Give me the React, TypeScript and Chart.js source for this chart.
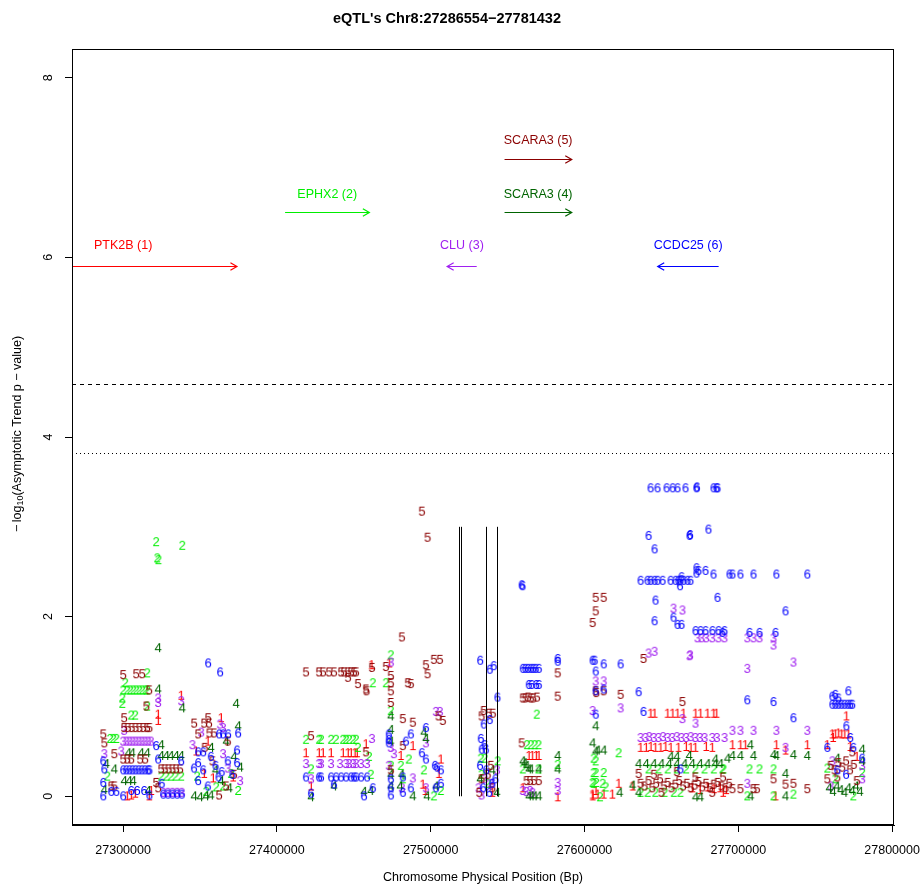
import React, { useEffect, useRef } from "react";
import { Chart, registerables } from "chart.js";

Chart.register(...registerables);

const FONT_FAMILY = "'Liberation Sans', Arial, Helvetica, sans-serif";
const TITLE = "eQTL's Chr8:27286554−27781432";
const X_TITLE = "Chromosome Physical Position (Bp)";
const Y_TITLE_PARTS = ["−\u2009log", "10", "(Asymptotic Trend p − value)"];

const X_MIN = 27266759;
const X_MAX = 27801227;
const Y_MIN = -0.32;
const Y_MAX = 8.32;
const X_TICKS = [27300000, 27400000, 27500000, 27600000, 27700000, 27800000];
const Y_TICKS = [0, 2, 4, 6, 8];

const GENE_SYMBOLS = ["1", "2", "3", "4", "5", "6"];
const GENE_COLORS = ["#FF0000", "#00EE00", "#A020F0", "#006400", "#8B0000", "#0000FF"];

// gene annotation arrows
const GENE_NAMES = ["PTK2B (1)", "EPHX2 (2)", "CLU (3)", "SCARA3 (4)", "SCARA3 (5)", "CCDC25 (6)"];
const GENE_COLOR_INDEX = [0, 1, 2, 3, 4, 5];
const GENE_TAIL = [27226000, 27405300, 27529900, 27548000, 27548000, 27687200];
const GENE_HEAD = [27374000, 27460100, 27510700, 27591700, 27591700, 27647600];
const GENE_ARROW_Y = [5.9, 6.5, 5.9, 6.5, 7.1, 5.9];
const GENE_LABEL_Y = [6.13, 6.7, 6.13, 6.7, 7.3, 6.13];

// threshold lines
const THRESHOLD_VALUES = [4.59, 3.82];
const THRESHOLD_DASHES = [[4, 4], [1, 3]];

// vertical marker segments
const VLINE_POSITIONS = [27518200, 27520000, 27535700, 27543300];
const VLINE_FROM = 0;
const VLINE_TO = 3;

// eQTL points: [position (bp), -log10 p]
const GENE1_POINTS: [number, number][] = [
  [27302600, 0.01], [27305200, 0.02], [27307800, 0.04], [27316900, 0.01], [27318200, 0.07], [27322700, 0.92], [27322700, 0.85], [27337700, 1.13], [27363600, 0.88], [27347400, 0.51], [27352600, 0.26], [27358400, 0.21], [27371400, 0.22], [27355000, 0.62],
  [27418800, 0.49], [27427300, 0.49], [27429900, 0.49], [27435100, 0.49], [27442900, 0.49], [27446100, 0.49], [27448100, 0.49], [27450600, 0.49], [27452000, 0.49], [27461500, 1.47], [27473000, 1.49], [27457800, 0.59], [27422100, 0.12], [27488300, 0.57], [27480500, 0.46], [27494800, 0.14], [27506500, 0.42], [27505200, 0.26], [27496500, 0.07],
  [27563700, 0.46], [27566000, 0.46], [27568500, 0.46], [27570200, 0.46], [27559800, 0.10], [27582500, 0.0], [27607200, 0.07], [27605200, 0.01], [27540000, 0.05],
  [27642900, 0.93], [27645500, 0.93], [27653900, 0.93], [27657200, 0.93], [27660400, 0.93], [27664300, 0.93], [27672100, 0.93], [27675300, 0.93], [27679900, 0.93], [27683800, 0.93], [27685700, 0.93],
  [27636400, 0.55], [27640000, 0.55], [27643000, 0.56], [27646000, 0.55], [27649400, 0.55], [27652600, 0.56], [27656000, 0.55], [27661000, 0.55], [27666000, 0.56], [27669000, 0.55], [27672000, 0.55], [27679000, 0.56], [27683000, 0.55],
  [27605200, 0.03], [27608500, 0.03], [27612400, 0.03], [27618000, 0.03], [27622100, 0.15], [27631200, 0.12],
  [27670000, 0.10], [27675000, 0.08], [27680000, 0.11], [27684000, 0.09], [27688000, 0.10], [27692000, 0.08],
  [27696100, 0.58], [27701300, 0.58], [27704500, 0.58], [27724700, 0.58], [27744800, 0.58], [27730600, 0.52], [27770200, 0.90],
  [27761100, 0.70], [27763000, 0.70], [27765000, 0.71], [27767000, 0.70], [27769000, 0.70], [27771500, 0.70],
  [27761500, 0.66], [27757800, 0.58], [27772700, 0.56], [27777000, 0.45], [27724100, 0.01], [27690000, 0.05],
];

const GENE2_POINTS: [number, number][] = [
  [27321400, 2.84], [27322100, 2.66], [27322900, 2.64], [27338400, 2.80], [27315600, 1.38], [27301300, 1.27],
  [27300000, 1.19], [27302600, 1.19], [27304500, 1.19], [27306500, 1.19], [27308400, 1.19], [27310400, 1.19], [27312300, 1.19], [27314300, 1.19], [27315600, 1.19],
  [27299400, 1.10], [27299400, 1.04], [27315600, 1.01], [27305200, 0.91], [27307800, 0.91],
  [27291500, 0.65], [27293500, 0.65], [27295500, 0.65],
  [27324700, 0.23], [27328000, 0.23], [27331000, 0.23], [27334000, 0.23], [27337700, 0.23],
  [27289600, 0.23], [27360400, 0.11], [27364900, 0.12], [27374700, 0.07], [27353900, 0.06], [27370100, 0.26], [27348000, 0.23],
  [27418800, 0.64], [27427300, 0.64], [27428600, 0.64], [27435100, 0.64], [27438300, 0.64], [27442900, 0.64], [27444800, 0.64], [27446800, 0.64], [27449400, 0.64], [27451300, 0.64],
  [27474000, 1.58], [27462300, 1.27], [27470800, 1.27], [27452600, 0.55], [27459800, 0.45], [27422100, 0.31], [27474000, 0.96], [27474000, 0.35], [27485700, 0.42], [27481800, 0.20], [27495500, 0.30], [27506500, 0.07], [27461000, 0.25], [27480500, 0.35], [27502000, 0.01],
  [27568900, 0.92], [27562500, 0.58], [27565000, 0.58], [27567500, 0.58], [27570000, 0.58], [27532500, 0.43], [27535000, 0.43], [27543500, 0.40], [27559800, 0.31], [27570000, 0.31], [27582500, 0.36], [27607200, 0.40], [27607200, 0.27], [27605200, 0.16], [27607500, 0.16], [27537000, 0.15], [27533000, 0.25],
  [27605900, 0.43], [27622100, 0.49], [27605900, 0.27], [27612400, 0.27], [27605900, 0.15], [27611700, 0.15],
  [27641600, 0.31], [27648000, 0.31], [27654000, 0.31], [27660000, 0.31], [27666000, 0.31], [27672000, 0.31], [27678000, 0.31], [27684000, 0.31], [27690300, 0.31],
  [27636400, 0.05], [27641000, 0.05], [27646000, 0.05], [27652000, 0.05], [27658000, 0.05], [27662300, 0.05], [27610000, 0.0], [27613700, 0.11],
  [27689600, 0.31], [27707200, 0.31], [27713700, 0.31], [27722800, 0.31], [27705800, 0.01], [27735800, 0.03], [27757800, 0.32], [27780500, 0.27], [27763000, 0.20], [27774700, 0.01], [27722800, 0.01],
];

const GENE3_POINTS: [number, number][] = [
  [27322700, 1.10], [27322700, 1.05], [27337700, 1.07],
  [27300000, 0.62], [27302000, 0.62], [27304000, 0.62], [27306000, 0.62], [27308000, 0.62], [27310000, 0.62], [27312000, 0.62], [27314000, 0.62], [27316000, 0.62], [27318000, 0.62],
  [27298700, 0.51], [27300600, 0.74], [27287700, 0.48],
  [27326000, 0.05], [27329000, 0.05], [27332000, 0.05], [27335000, 0.05], [27338000, 0.05],
  [27362900, 0.81], [27364900, 0.77], [27350700, 0.72], [27368000, 0.32], [27376000, 0.18], [27364900, 0.48], [27345000, 0.58],
  [27418800, 0.37], [27427300, 0.37], [27428600, 0.37], [27435100, 0.37], [27440900, 0.37], [27444800, 0.37], [27446800, 0.37], [27449400, 0.37], [27451300, 0.37], [27454600, 0.37], [27458500, 0.37],
  [27461700, 0.65], [27474000, 1.50], [27474000, 0.55], [27476000, 0.48], [27503300, 0.95], [27505900, 0.95], [27422100, 0.20], [27488300, 0.21], [27481200, 0.10], [27496800, 0.60], [27496800, 0.10], [27472700, 0.35],
  [27607200, 1.29], [27605200, 0.96], [27559800, 0.07], [27562000, 0.06], [27564500, 0.07], [27566000, 0.05], [27582500, 0.16], [27582500, 0.07], [27531000, 0.10], [27535000, 0.20], [27539000, 0.15], [27543000, 0.30], [27533000, 0.02],
  [27657800, 2.10], [27663600, 2.08], [27673400, 1.77], [27676000, 1.77], [27679000, 1.77], [27683000, 1.77], [27687000, 1.77], [27690900, 1.77],
  [27668200, 1.57], [27668600, 1.58], [27641600, 1.60], [27645500, 1.62], [27612400, 1.29], [27623400, 0.99], [27663600, 0.87], [27672100, 0.82],
  [27636400, 0.66], [27639600, 0.66], [27642000, 0.67], [27645000, 0.66], [27648000, 0.66], [27651000, 0.67], [27654000, 0.66], [27657000, 0.66], [27660000, 0.67], [27663000, 0.66], [27666000, 0.66], [27669000, 0.67], [27672000, 0.66], [27675000, 0.66], [27678000, 0.66], [27683000, 0.66], [27686000, 0.66], [27691000, 0.66],
  [27705800, 1.77], [27709800, 1.77], [27713700, 1.77], [27722800, 1.77], [27722800, 1.69], [27705800, 1.43], [27735800, 1.50],
  [27696100, 0.74], [27701300, 0.74], [27709800, 0.74], [27724700, 0.74], [27744800, 0.74], [27730600, 0.55], [27761100, 0.40], [27780500, 0.35], [27780500, 0.20], [27760000, 0.12], [27705800, 0.15],
];

const GENE4_POINTS: [number, number][] = [
  [27322700, 1.66], [27322700, 1.20], [27338400, 0.99], [27373400, 1.04],
  [27324700, 0.46], [27328000, 0.46], [27331000, 0.46], [27334400, 0.46], [27337700, 0.46],
  [27303300, 0.49], [27305900, 0.49], [27311700, 0.49], [27315600, 0.49], [27324700, 0.58],
  [27289000, 0.37], [27294200, 0.31], [27287700, 0.08], [27300600, 0.18], [27303900, 0.18], [27306500, 0.18], [27316200, 0.07],
  [27346100, 0.01], [27350000, 0.0], [27353900, 0.01], [27357000, 0.02], [27363600, 0.18], [27374700, 0.79], [27357100, 0.55],
  [27366900, 0.62], [27372000, 0.45], [27369000, 0.10], [27360000, 0.30], [27376000, 0.33],
  [27437000, 0.12], [27422100, 0.0], [27456500, 0.06], [27461000, 0.07], [27474000, 0.90], [27474000, 0.75], [27474000, 0.62], [27474000, 0.25], [27474000, 0.12], [27495500, 0.72], [27496800, 0.65], [27488300, 0.01], [27497500, 0.01], [27503300, 0.12], [27480000, 0.12], [27481000, 0.25],
  [27605200, 0.60], [27607200, 0.51], [27607200, 0.79], [27559800, 0.40], [27561000, 0.38], [27562300, 0.35], [27563700, 0.31], [27565000, 0.31], [27570200, 0.31], [27582500, 0.46], [27582500, 0.31], [27563700, 0.01], [27565500, 0.01], [27567500, 0.01], [27570200, 0.01], [27532000, 0.20], [27540000, 0.30], [27543000, 0.05],
  [27608500, 0.52], [27612400, 0.52], [27622800, 0.05], [27631200, 0.13], [27635100, 0.05],
  [27635100, 0.37], [27640000, 0.37], [27645000, 0.37], [27650000, 0.37], [27655000, 0.37], [27660000, 0.37], [27665000, 0.37], [27670000, 0.37], [27675000, 0.37], [27680000, 0.37], [27685000, 0.37], [27688300, 0.37],
  [27672100, 0.0], [27675300, 0.0], [27656000, 0.45], [27660000, 0.45], [27668000, 0.46], [27685000, 0.42], [27692900, 0.43],
  [27707800, 0.58], [27696100, 0.46], [27701300, 0.46], [27709800, 0.46], [27722800, 0.47], [27724700, 0.46], [27735800, 0.47], [27744800, 0.46], [27730600, 0.26], [27780500, 0.53], [27764300, 0.43], [27780500, 0.40],
  [27759000, 0.10], [27761500, 0.06], [27764000, 0.12], [27766500, 0.08], [27769000, 0.05], [27771500, 0.10], [27774000, 0.07], [27776500, 0.12], [27779000, 0.06], [27708000, 0.01], [27730600, 0.01],
];

const GENE5_POINTS: [number, number][] = [
  [27300000, 1.36], [27308400, 1.37], [27312300, 1.37], [27316900, 1.19], [27315000, 1.01], [27300600, 0.88],
  [27300600, 0.77], [27303000, 0.77], [27305500, 0.77], [27308000, 0.77], [27310500, 0.77], [27313000, 0.77], [27315500, 0.77], [27317000, 0.77],
  [27287000, 0.70], [27287700, 0.60], [27294200, 0.48],
  [27300000, 0.42], [27302600, 0.42], [27305200, 0.42], [27311000, 0.42], [27314300, 0.42],
  [27324700, 0.31], [27327000, 0.31], [27329500, 0.31], [27332000, 0.31], [27334400, 0.31], [27337000, 0.31],
  [27292200, 0.12], [27294200, 0.12], [27321400, 0.16], [27322700, 0.10],
  [27346100, 0.82], [27352600, 0.82], [27355800, 0.82], [27355200, 0.88], [27348700, 0.70], [27356000, 0.71], [27359000, 0.71], [27362300, 0.02], [27366900, 0.12],
  [27353000, 0.55], [27368000, 0.62], [27372000, 0.25], [27358000, 0.40],
  [27494200, 3.18], [27497900, 2.89], [27481200, 1.78], [27502000, 1.53], [27505900, 1.53], [27496800, 1.47], [27497900, 1.37],
  [27418800, 1.39], [27427300, 1.39], [27429900, 1.39], [27433800, 1.39], [27437000, 1.39], [27441600, 1.39], [27443500, 1.39], [27446100, 1.39], [27448100, 1.39], [27450000, 1.39], [27451300, 1.39],
  [27446100, 1.33], [27461700, 1.44], [27470800, 1.45], [27452600, 1.26], [27457800, 1.20], [27458200, 1.18], [27474000, 1.35], [27474000, 1.27], [27474000, 1.18], [27474000, 1.05], [27485100, 1.27], [27487000, 1.26], [27481800, 0.87], [27488300, 0.83], [27507800, 0.85], [27505000, 0.90], [27422100, 0.68], [27457800, 0.50], [27481800, 0.57], [27474000, 0.30],
  [27534400, 0.96], [27537700, 0.93], [27540300, 0.93], [27533000, 0.90], [27582500, 1.38],
  [27559800, 1.10], [27561500, 1.10], [27563200, 1.11], [27565000, 1.10], [27566600, 1.10], [27569000, 1.11],
  [27582500, 1.12], [27607200, 1.18], [27607600, 1.16], [27607200, 2.22], [27607200, 2.07], [27605200, 1.94], [27559100, 0.60],
  [27562300, 0.18], [27564500, 0.18], [27567000, 0.18], [27570200, 0.18],
  [27533000, 0.20], [27537000, 0.25], [27540000, 0.10], [27531500, 0.05], [27539000, 0.35],
  [27612400, 2.22], [27623400, 1.14], [27638300, 1.54], [27663600, 1.06], [27612400, 1.18], [27635100, 0.26],
  [27636400, 0.15], [27639000, 0.12], [27641600, 0.18], [27644000, 0.10], [27646500, 0.15], [27649000, 0.20], [27651500, 0.12], [27654000, 0.16], [27656500, 0.10], [27659000, 0.14], [27661500, 0.18], [27664000, 0.12], [27666500, 0.15], [27669000, 0.10], [27671500, 0.13], [27674000, 0.17], [27676500, 0.11], [27679000, 0.15], [27681500, 0.10], [27684000, 0.14], [27686500, 0.16], [27689000, 0.12], [27691600, 0.10], [27694000, 0.15],
  [27645000, 0.25], [27660000, 0.28], [27672000, 0.22], [27683000, 0.05], [27650000, 0.05], [27690000, 0.22],
  [27722800, 0.20], [27730600, 0.14], [27735800, 0.15], [27696100, 0.09], [27701300, 0.09], [27709800, 0.09], [27712000, 0.09], [27744800, 0.09],
  [27760000, 0.35], [27762500, 0.30], [27765000, 0.38], [27767500, 0.33], [27770000, 0.40], [27772500, 0.30], [27775000, 0.36],
  [27757800, 0.20], [27764300, 0.22], [27774000, 0.50], [27777000, 0.18],
];

const GENE6_POINTS: [number, number][] = [
  [27355200, 1.49], [27363000, 1.39],
  [27300000, 0.30], [27302000, 0.30], [27304000, 0.30], [27306000, 0.30], [27308000, 0.30], [27310000, 0.30], [27312000, 0.30], [27314000, 0.30], [27316000, 0.30], [27317000, 0.30],
  [27321400, 0.57], [27322700, 0.42], [27287000, 0.40], [27287700, 0.31], [27287000, 0.16], [27287000, 0.01], [27292200, 0.06], [27295500, 0.06], [27300000, 0.01], [27305200, 0.07], [27309000, 0.07], [27313600, 0.07], [27317000, 0.02], [27325000, 0.15],
  [27326000, 0.03], [27329000, 0.03], [27332000, 0.03], [27335000, 0.03], [27338000, 0.03],
  [27337700, 0.40], [27348700, 0.18], [27348700, 0.50], [27352000, 0.50], [27348700, 0.38],
  [27362300, 0.70], [27364900, 0.70], [27368200, 0.70], [27374700, 0.71],
  [27357000, 0.45], [27360000, 0.35], [27364000, 0.28], [27368000, 0.40], [27371000, 0.25], [27374000, 0.38], [27374000, 0.52], [27352000, 0.30], [27346000, 0.32], [27355000, 0.12], [27362000, 0.22],
  [27418800, 0.22], [27427300, 0.22], [27428600, 0.22], [27435100, 0.22], [27438300, 0.22], [27441600, 0.22], [27444800, 0.22], [27448100, 0.22], [27450000, 0.22], [27451300, 0.22], [27454600, 0.22], [27458500, 0.22],
  [27437000, 0.14], [27422100, 0.04], [27456500, 0.01], [27462300, 0.10],
  [27472700, 0.70], [27472700, 0.64], [27472700, 0.60], [27474000, 0.20], [27474000, 0.10], [27474000, 0.02],
  [27481800, 0.22], [27483800, 0.62], [27487000, 0.70], [27487000, 0.10], [27481800, 0.05], [27496800, 0.77], [27494200, 0.49], [27496800, 0.42], [27502700, 0.35], [27504000, 0.33], [27506500, 0.30], [27506500, 0.15], [27503300, 0.10],
  [27559100, 2.36], [27559600, 2.35], [27532100, 1.52], [27538300, 1.42], [27540900, 1.46], [27543300, 1.11],
  [27559800, 1.43], [27561500, 1.43], [27563200, 1.43], [27565000, 1.43], [27566600, 1.43], [27568200, 1.43], [27570200, 1.43],
  [27582500, 1.54], [27582500, 1.51], [27605200, 1.52], [27606500, 1.52], [27607200, 1.40],
  [27563700, 1.25], [27565500, 1.25], [27568500, 1.25], [27570200, 1.25],
  [27538300, 0.86], [27534400, 0.81], [27532500, 0.65], [27533100, 0.53], [27535700, 0.53], [27535000, 0.58], [27607200, 0.92],
  [27532000, 0.35], [27536000, 0.30], [27540000, 0.15], [27534000, 0.10], [27538000, 0.05], [27542000, 0.20],
  [27642900, 3.44], [27647400, 3.44], [27653300, 3.44], [27657200, 3.44], [27660400, 3.44], [27665600, 3.44], [27672700, 3.44], [27673000, 3.45], [27683800, 3.44], [27685700, 3.44], [27686400, 3.44],
  [27641600, 2.91], [27645500, 2.76], [27668200, 2.91], [27668600, 2.92], [27680500, 2.98],
  [27636400, 2.41], [27640900, 2.41], [27642900, 2.41], [27645500, 2.41], [27647400, 2.41], [27650700, 2.41], [27655900, 2.41], [27659100, 2.41], [27661000, 2.41], [27662300, 2.41], [27664300, 2.41], [27666900, 2.41], [27668800, 2.41], [27662000, 2.35], [27663000, 2.45],
  [27672700, 2.55], [27672700, 2.49], [27674000, 2.52], [27678600, 2.52], [27683800, 2.48], [27694200, 2.48],
  [27646100, 2.19], [27686400, 2.22], [27657800, 2.00], [27660400, 1.92], [27663000, 1.92], [27645500, 1.96],
  [27672100, 1.85], [27675300, 1.85], [27678600, 1.85], [27683100, 1.85], [27687000, 1.85], [27690900, 1.85],
  [27612400, 1.48], [27623400, 1.48], [27635100, 1.17], [27638300, 0.95], [27607200, 1.18], [27612400, 1.20], [27662300, 0.31],
  [27696100, 2.48], [27701300, 2.48], [27709800, 2.48], [27724700, 2.48], [27744800, 2.48], [27730600, 2.07],
  [27689600, 1.83], [27707200, 1.83], [27713700, 1.83], [27724100, 1.83],
  [27705800, 1.08], [27722800, 1.06], [27735800, 0.88],
  [27771500, 1.18], [27761100, 1.12], [27763000, 1.14], [27765000, 1.10],
  [27761100, 1.03], [27763000, 1.03], [27765000, 1.03], [27767000, 1.03], [27769000, 1.03], [27771000, 1.03], [27772700, 1.03], [27774000, 1.03],
  [27770200, 0.79], [27772700, 0.66], [27774700, 0.55], [27757800, 0.55], [27780500, 0.43], [27764300, 0.30], [27770000, 0.25],
];

const GENE_POINTS = [GENE1_POINTS, GENE2_POINTS, GENE3_POINTS, GENE4_POINTS, GENE5_POINTS, GENE6_POINTS];

function makeGlyph(ch: string, color: string): HTMLCanvasElement {
  const c = document.createElement("canvas");
  c.width = 16;
  c.height = 18;
  const g = c.getContext("2d") as CanvasRenderingContext2D;
  g.font = `13px ${FONT_FAMILY}`;
  g.fillStyle = color;
  g.textAlign = "center";
  g.textBaseline = "alphabetic";
  g.fillText(ch, 8, 9 + 4.7);
  return c;
}

const annotationPlugin = {
  id: "eqtlAnnotations",
  afterDatasetsDraw(chart: any) {
    const { ctx, chartArea: a, scales } = chart;
    const x = scales.x;
    const y = scales.y;
    ctx.save();
    ctx.beginPath();
    ctx.rect(a.left, a.top, a.right - a.left, a.bottom - a.top);
    ctx.clip();

    ctx.strokeStyle = "#000";
    ctx.lineWidth = 1;
    THRESHOLD_VALUES.forEach((v, i) => {
      const py = Math.round(y.getPixelForValue(v)) + 0.5;
      ctx.setLineDash(THRESHOLD_DASHES[i]);
      ctx.beginPath();
      ctx.moveTo(a.left, py);
      ctx.lineTo(a.right, py);
      ctx.stroke();
    });
    ctx.setLineDash([]);

    VLINE_POSITIONS.forEach((p) => {
      const px = Math.round(x.getPixelForValue(p)) + 0.5;
      ctx.beginPath();
      ctx.moveTo(px, y.getPixelForValue(VLINE_FROM));
      ctx.lineTo(px, y.getPixelForValue(VLINE_TO));
      ctx.stroke();
    });

    GENE_NAMES.forEach((name, i) => {
      const color = GENE_COLORS[GENE_COLOR_INDEX[i]];
      const tx = x.getPixelForValue(GENE_TAIL[i]);
      const hx = x.getPixelForValue(GENE_HEAD[i]);
      const py = Math.round(y.getPixelForValue(GENE_ARROW_Y[i])) + 0.5;
      const dir = hx >= tx ? 1 : -1;
      const L = 7.5;
      ctx.strokeStyle = color;
      ctx.lineWidth = 1.2;
      ctx.beginPath();
      ctx.moveTo(tx, py);
      ctx.lineTo(hx, py);
      ctx.moveTo(hx - dir * L * Math.cos(Math.PI / 6), py - L * Math.sin(Math.PI / 6));
      ctx.lineTo(hx, py);
      ctx.lineTo(hx - dir * L * Math.cos(Math.PI / 6), py + L * Math.sin(Math.PI / 6));
      ctx.stroke();

      const lx = x.getPixelForValue((GENE_TAIL[i] + GENE_HEAD[i]) / 2);
      const ly = y.getPixelForValue(GENE_LABEL_Y[i]);
      ctx.fillStyle = color;
      ctx.font = `12.5px ${FONT_FAMILY}`;
      ctx.textAlign = "center";
      ctx.textBaseline = "middle";
      ctx.fillText(name, lx, ly);
    });
    ctx.restore();
  },
  afterDraw(chart: any) {
    const { ctx, chartArea: a, scales } = chart;
    const y = scales.y;
    ctx.save();
    ctx.strokeStyle = "#000";
    ctx.lineWidth = 1;
    const l = Math.round(a.left) + 0.5;
    const t = Math.round(a.top) + 0.5;
    const r = Math.round(a.right) - 0.5;
    const b = Math.round(a.bottom) - 0.5;
    ctx.strokeRect(l, t, r - l, b - t);

    ctx.fillStyle = "#000";
    ctx.font = `12.5px ${FONT_FAMILY}`;
    ctx.textAlign = "center";
    ctx.textBaseline = "middle";
    Y_TICKS.forEach((v) => {
      ctx.save();
      ctx.translate(49, y.getPixelForValue(v));
      ctx.rotate(-Math.PI / 2);
      ctx.fillText(String(v), 0, 0);
      ctx.restore();
    });

    const mainFont = `12.5px ${FONT_FAMILY}`;
    const subFont = `9px ${FONT_FAMILY}`;
    ctx.save();
    ctx.translate(18, (a.top + a.bottom) / 2 - 3);
    ctx.rotate(-Math.PI / 2);
    ctx.textAlign = "left";
    ctx.textBaseline = "middle";
    ctx.font = mainFont;
    const w0 = ctx.measureText(Y_TITLE_PARTS[0]).width;
    const w2 = ctx.measureText(Y_TITLE_PARTS[2]).width;
    ctx.font = subFont;
    const w1 = ctx.measureText(Y_TITLE_PARTS[1]).width;
    let cx = -(w0 + w1 + w2) / 2;
    ctx.font = mainFont;
    ctx.fillText(Y_TITLE_PARTS[0], cx, 0);
    cx += w0;
    ctx.font = subFont;
    ctx.fillText(Y_TITLE_PARTS[1], cx, 3);
    cx += w1;
    ctx.font = mainFont;
    ctx.fillText(Y_TITLE_PARTS[2], cx, 0);
    ctx.restore();
    ctx.restore();
  },
};

export default function App() {
  const canvasRef = useRef<HTMLCanvasElement | null>(null);

  useEffect(() => {
    const canvas = canvasRef.current;
    if (!canvas) return;
    Chart.defaults.font.family = FONT_FAMILY;
    Chart.defaults.color = "#000";

    const datasets = GENE_POINTS.map((pts, i) => ({
      label: GENE_SYMBOLS[i],
      data: pts.map(([px, v]) => ({ x: px, y: v })),
      pointStyle: makeGlyph(GENE_SYMBOLS[i], GENE_COLORS[i]),
      pointRadius: 4,
      backgroundColor: GENE_COLORS[i],
      borderColor: GENE_COLORS[i],
      showLine: false,
      order: 5 - i,
    }));

    const chart = new Chart(canvas, {
      type: "scatter",
      data: { datasets } as any,
      options: {
        responsive: false,
        animation: false,
        devicePixelRatio: 1,
        events: [],
        layout: { padding: { top: 0, left: 0, right: 26, bottom: 0 } },
        plugins: {
          legend: { display: false },
          tooltip: { enabled: false },
          title: {
            display: true,
            text: TITLE,
            color: "#000",
            font: { size: 14.5, weight: "bold", family: FONT_FAMILY },
            padding: { top: 10, bottom: 21.6 },
          },
        },
        scales: {
          x: {
            type: "linear",
            min: X_MIN,
            max: X_MAX,
            afterBuildTicks: (scale: any) => {
              scale.ticks = X_TICKS.map((v) => ({ value: v }));
            },
            afterFit: (scale: any) => {
              scale.height = 61;
              scale.paddingLeft = 0;
              scale.paddingRight = 0;
            },
            ticks: {
              autoSkip: false,
              maxRotation: 0,
              minRotation: 0,
              padding: 11,
              color: "#000",
              font: { size: 12.5, family: FONT_FAMILY },
              callback: (v: any) => String(v),
            },
            grid: { drawOnChartArea: false, drawTicks: true, tickLength: 7, color: "#000", lineWidth: 1 },
            border: { display: true, color: "#000", width: 1 },
            title: {
              display: true,
              text: X_TITLE,
              color: "#000",
              font: { size: 12.5, family: FONT_FAMILY },
              padding: { top: 0, bottom: 0.5 },
            },
          },
          y: {
            type: "linear",
            min: Y_MIN,
            max: Y_MAX,
            afterBuildTicks: (scale: any) => {
              scale.ticks = Y_TICKS.map((v) => ({ value: v }));
            },
            afterFit: (scale: any) => {
              scale.width = 72;
              scale.paddingTop = 0;
              scale.paddingBottom = 0;
            },
            ticks: { display: false },
            grid: { drawOnChartArea: false, drawTicks: true, tickLength: 7, color: "#000", lineWidth: 1 },
            border: { display: true, color: "#000", width: 1 },
          },
        },
      } as any,
      plugins: [annotationPlugin],
    });

    return () => {
      chart.destroy();
    };
  }, []);

  return (
    <div style={{ position: "absolute", left: 0, top: 0, width: 920, height: 886, background: "#fff" }}>
      <canvas ref={canvasRef} width={920} height={886} style={{ display: "block" }} />
    </div>
  );
}
